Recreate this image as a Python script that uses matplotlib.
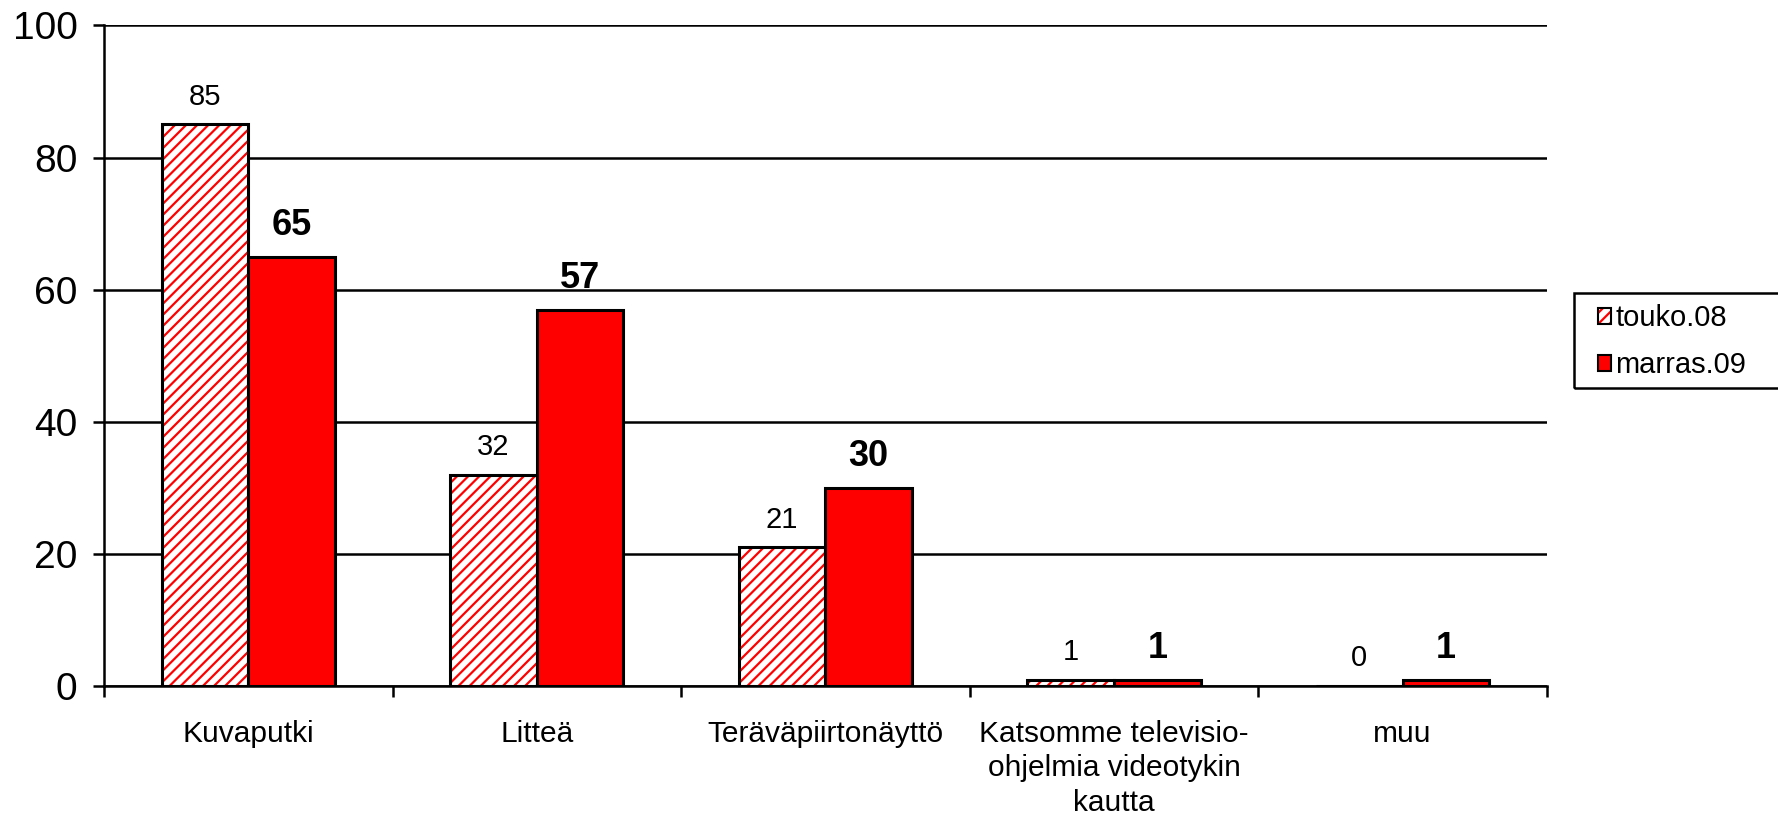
import numpy as np
import matplotlib
matplotlib.use('Agg')
import matplotlib.pyplot as plt
from matplotlib.patches import Patch, Rectangle
from matplotlib.legend_handler import HandlerTuple

plt.rcParams['font.family'] = ['Liberation Sans', 'DejaVu Sans']
plt.rcParams['hatch.linewidth'] = 1.6
plt.rcParams['hatch.color'] = 'red'

categories = ['Kuvaputki', 'Litteä', 'Teräväpiirtonäyttö',
              'Katsomme televisio-\nohjelmia videotykin\nkautta', 'muu']
touko_08 = [85, 32, 21, 1, 0]
marras_09 = [65, 57, 30, 1, 1]
series_names = ['touko.08', 'marras.09']


def main():
    fig = plt.figure(figsize=(17.78, 8.17), dpi=100)
    ax = fig.add_axes([0.0585, 0.160, 0.8115, 0.809])

    x = np.arange(len(categories))
    w = 0.3

    # hatched bars: red stripes, then black outline on top
    ax.bar(x - w / 2, touko_08, w, color='white', edgecolor='red', hatch='///',
           linewidth=0, zorder=3)
    ax.bar(x - w / 2, touko_08, w, fill=False, edgecolor='black', linewidth=2.2, zorder=4)
    ax.bar(x + w / 2, marras_09, w, color='#ff0000', edgecolor='black', linewidth=2.2, zorder=4)

    for xi, v in zip(x, touko_08):
        ax.annotate(str(v), (xi - w / 2, v), xytext=(0, 10), textcoords='offset points',
                    ha='center', va='bottom', fontsize=21)
    for xi, v in zip(x, marras_09):
        ax.annotate(str(v), (xi + w / 2, v), xytext=(0, 10), textcoords='offset points',
                    ha='center', va='bottom', fontsize=26, fontweight='bold')

    ax.set_xlim(-0.5, len(categories) - 0.5)
    ax.set_ylim(0, 100)
    ax.set_yticks([0, 20, 40, 60, 80, 100])
    ax.tick_params(axis='y', labelsize=28, length=8, width=1.8, pad=11, direction='out')

    ax.set_xticks(x)
    ax.set_xticklabels(categories, fontsize=21.5, linespacing=1.3)
    ax.set_xticks(np.arange(len(categories) + 1) - 0.5, minor=True)
    ax.tick_params(axis='x', which='major', length=0, pad=24)
    ax.tick_params(axis='x', which='minor', length=8, width=1.8, direction='out')

    ax.grid(axis='y', color='black', linewidth=1.8, zorder=1)
    ax.set_axisbelow(True)
    for s in ['top', 'right']:
        ax.spines[s].set_visible(False)
    ax.spines['left'].set_linewidth(1.8)
    ax.spines['bottom'].set_linewidth(1.8)
    ax.spines['bottom'].set_zorder(5)

    hatched = (Patch(facecolor='white', edgecolor='red', hatch='///', linewidth=0),
               Patch(fill=False, edgecolor='black', linewidth=1.5))
    solid = Patch(facecolor='#ff0000', edgecolor='black', linewidth=1.5)
    fig.legend([hatched, solid], series_names, loc='center left',
               handler_map={tuple: HandlerTuple(ndivide=1)},
               bbox_to_anchor=(0.8985, 0.5815), fontsize=21, frameon=False,
               handlelength=0.45, handleheight=0.45, handletextpad=0.15,
               borderpad=0, labelspacing=0.65, borderaxespad=0)
    # legend box runs off the right edge of the figure
    fig.patches.append(Rectangle((0.885, 0.525), 0.2, 0.116, transform=fig.transFigure,
                                 fill=False, edgecolor='black', linewidth=1.8))

    plt.savefig('out.png', dpi=100)


if __name__ == '__main__':
    main()
